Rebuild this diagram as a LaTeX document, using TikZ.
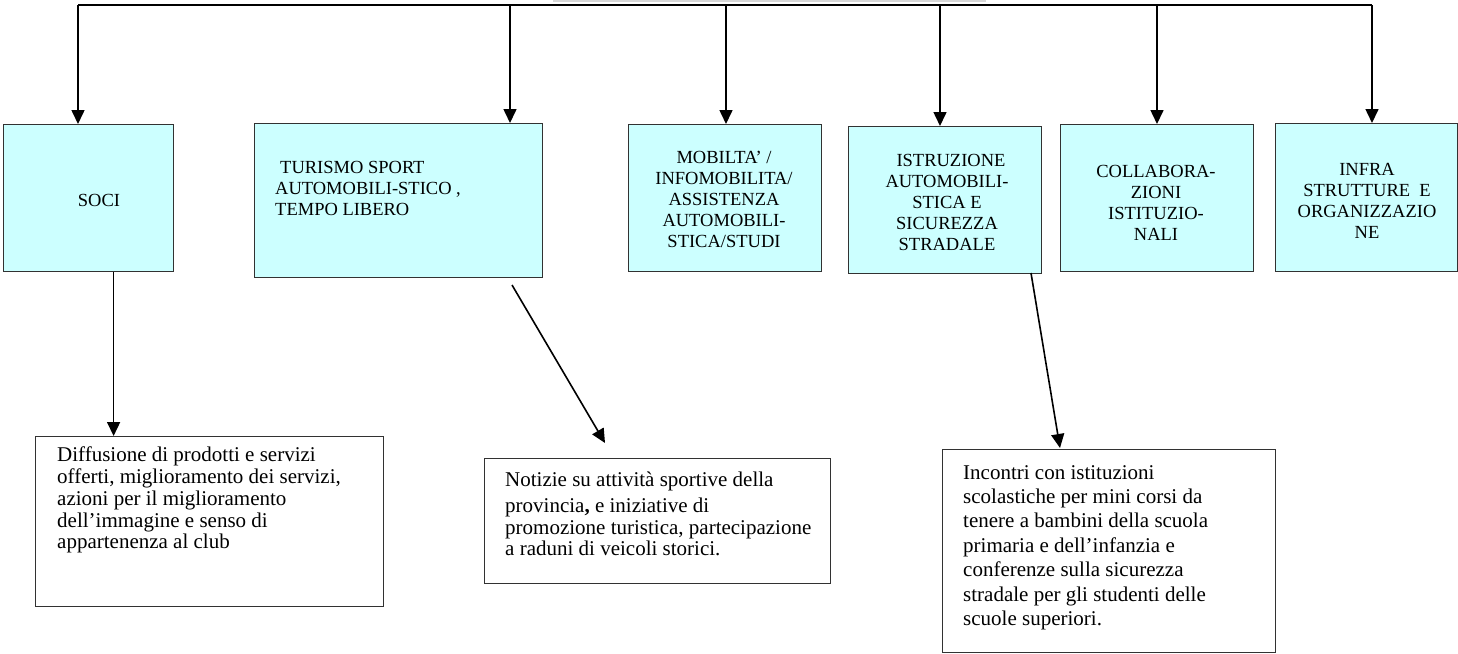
\documentclass[tikz,border=0pt]{standalone}
\usepackage{fontspec}
\setmainfont{Liberation Serif}
\usetikzlibrary{arrows.meta}
\definecolor{boxcyan}{RGB}{204,255,255}
\definecolor{boxedge}{RGB}{50,50,50}
\definecolor{faint}{RGB}{215,215,215}
\begin{document}
\begin{tikzpicture}[x=1pt,y=-1pt,
  topbox/.style={draw=boxedge, line width=1.2pt, fill=boxcyan, inner sep=0pt, anchor=north west},
  lowbox/.style={draw=boxedge, line width=1.2pt, fill=white, inner sep=0pt, anchor=north west},
  toptext/.style={inner sep=0pt, font=\fontsize{18.5}{21}\selectfont, align=center},
  lowtext/.style={inner sep=0pt, anchor=north west, align=left},
  arr/.style={line width=1.6pt, -{Triangle[length=14pt,width=13pt]}},
  bar/.style={line width=2pt}]
\useasboundingbox (0,0) rectangle (1458,653);

% faint edge of the cut-off title box
\draw[faint, line width=1.5pt] (553,1) -- (986,1);

% top row boxes
\node[topbox, minimum width=170pt, minimum height=147pt] (soci) at (3,124) {};
\node[topbox, minimum width=288pt, minimum height=154pt] (turismo) at (254,123) {};
\node[topbox, minimum width=193pt, minimum height=147pt] (mobilita) at (628,124) {};
\node[topbox, minimum width=193pt, minimum height=147pt] (istruzione) at (848,126) {};
\node[topbox, minimum width=193pt, minimum height=147pt] (collab) at (1060,124) {};
\node[topbox, minimum width=182pt, minimum height=148pt] (infra) at (1275,123) {};

% top row texts
\node[toptext] (tsoci) at (99,200) {SOCI};
\node[toptext, anchor=north west, align=left] (tturismo) at (275,161)
  {\hspace*{5pt}TURISMO SPORT\\AUTOMOBILI-STICO ,\\TEMPO LIBERO};
\node[toptext] (tmobilita) at (724,199)
  {MOBILTA’ /\\INFOMOBILITA/\\ASSISTENZA\\AUTOMOBILI-\\STICA/STUDI};
\node[toptext] (tistruzione) at (947,202)
  {\hspace*{8pt}ISTRUZIONE\\AUTOMOBILI-\\STICA E\\SICUREZZA\\STRADALE};
\node[toptext] (tcollab) at (1156,202.5)
  {COLLABORA-\\ZIONI\\ISTITUZIO-\\NALI};
\node[toptext] (tinfra) at (1367,200.5)
  {INFRA\\STRUTTURE\ \ E\\ORGANIZZAZIO\\NE};

% lower boxes
\node[lowbox, minimum width=348pt, minimum height=170pt] (diff) at (35,436) {};
\node[lowbox, minimum width=346pt, minimum height=125pt] (notizie) at (484,458) {};
\node[lowbox, minimum width=333pt, minimum height=203pt] (incontri) at (942,449) {};

\node[lowtext, font=\fontsize{21}{21.7}\selectfont] (tdiff) at (57,447)
  {Diffusione di prodotti e servizi\\offerti, miglioramento dei servizi,\\azioni per il miglioramento\\dell’immagine e senso di\\appartenenza al club};
\node[lowtext, font=\fontsize{21}{21.7}\selectfont] (tnotizie) at (505,472)
  {Notizie su attività sportive della\\[4pt]provincia\textbf{,} e iniziative di\\promozione turistica, partecipazione\\a raduni di veicoli storici.};
\node[lowtext, font=\fontsize{21}{24.4}\selectfont] (tincontri) at (963,465)
  {Incontri con istituzioni\\scolastiche per mini corsi da\\tenere a bambini della scuola\\primaria e dell’infanzia e\\conferenze sulla sicurezza\\stradale per gli studenti delle\\scuole superiori.};

% top distribution bar and arrows
\coordinate (b1) at (78,5);
\coordinate (b2) at (510,5);
\coordinate (b3) at (726,5);
\coordinate (b4) at (940,5);
\coordinate (b5) at (1157,5);
\coordinate (b6) at (1372,5);
\draw[bar] (b1) -- (b6);
\draw[arr] (b1) -- (b1 |- soci.north);
\draw[arr] (b2) -- (b2 |- turismo.north);
\draw[arr] (b3) -- (b3 |- mobilita.north);
\draw[arr] (b4) -- (b4 |- istruzione.north);
\draw[arr] (b5) -- (b5 |- collab.north);
\draw[arr] (b6) -- (b6 |- infra.north);

% lower arrows
\draw[arr] ([xshift=25pt]soci.south) -- ([xshift=25pt]soci.south |- diff.north);
\coordinate (ts) at (512,285);
\coordinate (te) at (605,443);
\draw[arr] (ts) -- (te);
\coordinate (is) at (1031,273);
\coordinate (ie) at (1060,448);
\draw[arr] (is) -- (ie);
\end{tikzpicture}
\end{document}
